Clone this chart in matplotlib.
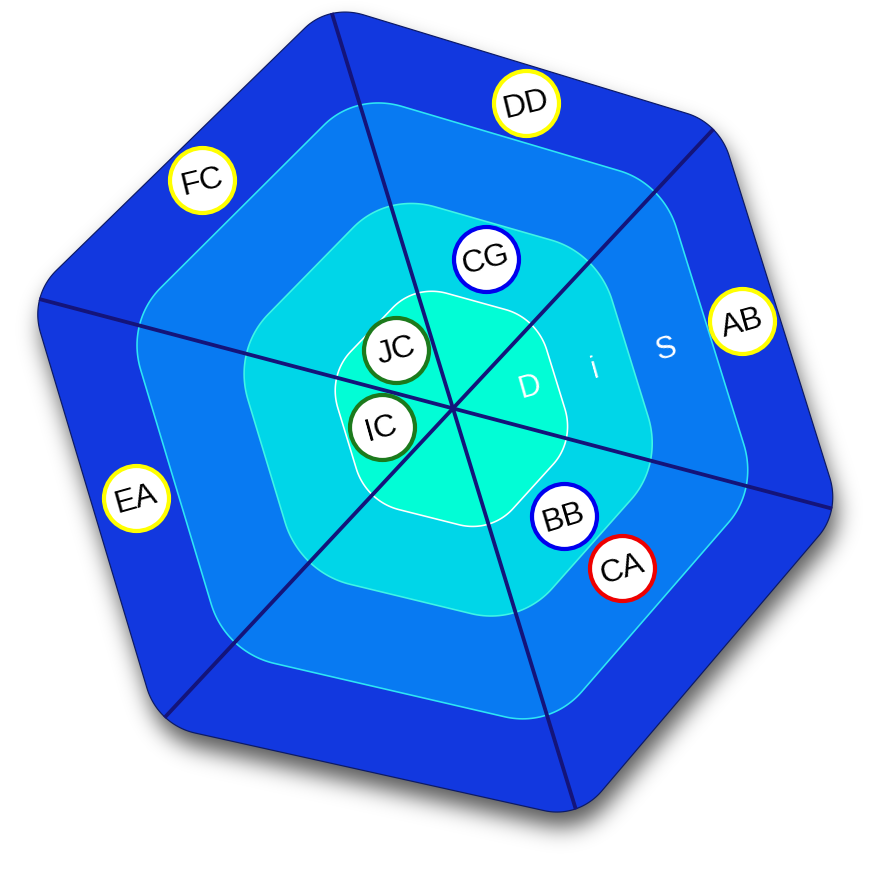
import numpy as np
import matplotlib
matplotlib.use("Agg")
import matplotlib.pyplot as plt
from matplotlib.path import Path

# letters written in the three inner rings, centre outwards
ring_letters = ["D", "i", "S"]
ring_letter_radius = [0.20, 0.375, 0.57]

# people on the chart: label, angle of their sector (deg), distance from centre, group
names = ["DD", "FC", "AB", "EA", "CG", "JC", "IC", "BB", "CA"]
angles = [59, 122, 1, 180, 60, 118, 179, -60, -59]
radii = [0.79, 0.80, 0.785, 0.785, 0.38, 0.195, 0.182, 0.373, 0.565]
groups = ["outer", "outer", "outer", "outer", "mid", "core", "core", "mid", "alert"]

group_colors = {"outer": "#ffff00", "mid": "#0000ee", "core": "#1c7a1c", "alert": "#ee0000"}

# rings, outside in: (apothem, corner radius, fill, edge)
rings = [
    (0.885, 0.15, "#1238df", "#0c1a66"),
    (0.69, 0.20, "#087af2", "#2ee6f5"),
    (0.47, 0.21, "#00d6e8", "#3ff5e6"),
    (0.27, 0.14, "#02fdd6", "#ffffff"),
]

# the chart is drawn tilted, in perspective: canonical hexagon -> picture
anchor_src = [(0, 0)] + [(np.cos(np.radians(30 + 60 * k)), np.sin(np.radians(30 + 60 * k))) for k in range(6)]
anchor_dst = [(453, 410), (713, 133), (332, 10), (40, 304), (163, 715), (577, 813), (832, 507)]

W, Hpx = 876, 887


def homography(src, dst):
    rows = []
    for (x, y), (u, v) in zip(src, dst):
        u, v = u / 1000.0, v / 1000.0
        rows.append([x, y, 1, 0, 0, 0, -u * x, -u * y, -u])
        rows.append([0, 0, 0, x, y, 1, -v * x, -v * y, -v])
    _, _, vt = np.linalg.svd(np.array(rows))
    return np.diag([1000.0, 1000.0, 1.0]) @ vt[-1].reshape(3, 3)


H = homography(anchor_src, anchor_dst)


def warp(pts):
    pts = np.atleast_2d(np.asarray(pts, dtype=float))
    h = np.c_[pts, np.ones(len(pts))] @ H.T
    return h[:, :2] / h[:, 2:]


def local_angle(x, y):
    p0 = warp([x, y])[0]
    p1 = warp([x + 0.01, y])[0]
    return np.degrees(np.arctan2(-(p1[1] - p0[1]), p1[0] - p0[0]))


def rounded_hex(apothem, corner, n=30):
    d = (apothem - corner) / np.cos(np.pi / 6)
    pts = []
    for k in range(6):
        th = np.radians(30 + 60 * k)
        t = np.linspace(th - np.pi / 6, th + np.pi / 6, n)
        pts.append(np.c_[d * np.cos(th) + corner * np.cos(t), d * np.sin(th) + corner * np.sin(t)])
    return np.vstack(pts)


fig = plt.figure(figsize=(W / 100, Hpx / 100), dpi=100)
ax = fig.add_axes([0, 0, 1, 1])

px = 72.0 / 100  # points per pixel

# soft drop shadow: blurred mask of the outline, pushed down a little
outer = warp(rounded_hex(rings[0][0], rings[0][1]))
yy, xx = np.mgrid[0:Hpx, 0:W]
mask = Path(outer + np.array([4, 15])).contains_points(
    np.c_[xx.ravel() + 0.5, yy.ravel() + 0.5]).reshape(Hpx, W).astype(float)
g = np.arange(-36, 37)
kern = np.exp(-0.5 * (g / 11.0) ** 2)
kern /= kern.sum()
mask = np.apply_along_axis(lambda r: np.convolve(r, kern, mode="same"), 1, mask)
mask = np.apply_along_axis(lambda c: np.convolve(c, kern, mode="same"), 0, mask)
rgba = np.zeros((Hpx, W, 4))
rgba[..., 3] = 0.65 * mask
ax.imshow(rgba, extent=(0, W, Hpx, 0), interpolation="bilinear", zorder=1)
ax.set_xlim(0, W)
ax.set_ylim(Hpx, 0)
ax.axis("off")

for z, (ap, cr, fc, ec) in enumerate(rings):
    shp = warp(rounded_hex(ap, cr))
    ax.fill(shp[:, 0], shp[:, 1], facecolor=fc, edgecolor=ec,
            linewidth=1.6 * px if z else 1.2 * px, zorder=2 + z)

# spokes
for k in range(6):
    th = np.radians(30 + 60 * k)
    seg = warp([(0, 0), (np.cos(th), np.sin(th))])
    ax.plot(seg[:, 0], seg[:, 1], color="#14147a", linewidth=3.8 * px,
            solid_capstyle="butt", zorder=7)

for letter, r in zip(ring_letters, ring_letter_radius):
    p = warp([r, 0])[0]
    ax.text(p[0], p[1], letter, color="white", fontsize=22, family="Liberation Sans",
            ha="center", va="center", rotation=local_angle(r, 0), zorder=8)

for name, a, r, g in zip(names, angles, radii, groups):
    cx, cy = r * np.cos(np.radians(a)), r * np.sin(np.radians(a))
    p = warp([cx, cy])[0]
    ax.scatter([p[0]], [p[1]], s=(65 * px) ** 2, facecolor="white",
               edgecolor=group_colors[g], linewidth=4.2 * px, zorder=9)
    ax.text(p[0], p[1] + 1, name, color="black", fontsize=23, family="Liberation Sans",
            ha="center", va="center", rotation=local_angle(cx, cy), zorder=10)

fig.savefig("out.png", dpi=100)
